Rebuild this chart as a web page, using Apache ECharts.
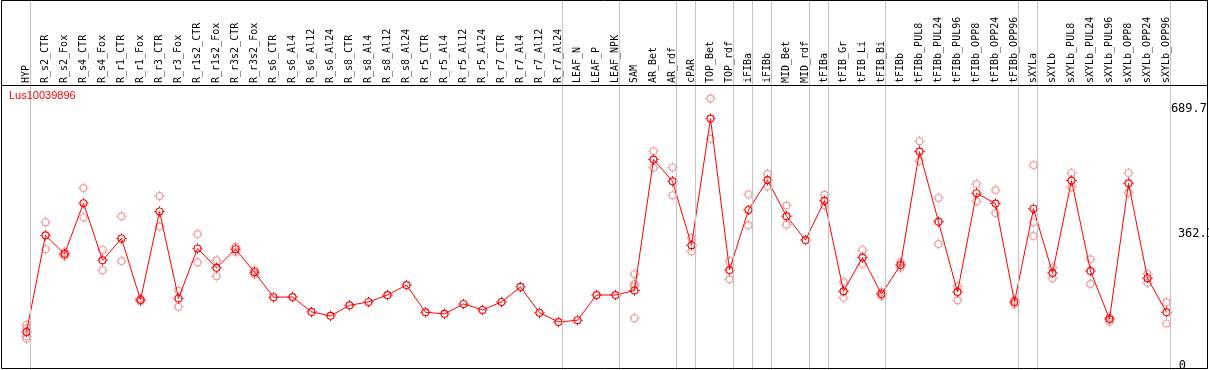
<!DOCTYPE html>
<html><head><meta charset="utf-8">
<script src="https://cdn.jsdelivr.net/npm/echarts@6/dist/echarts.min.js"></script>
<style>html,body{margin:0;padding:0;background:#fff}#c{position:absolute;left:0;top:0;width:1209px;height:370px}</style>
</head><body><div id="c"></div>
<script>
const geneName = 'Lus10039896';
const categories = ['HYP','R_s2_CTR','R_s2_Fox','R_s4_CTR','R_s4_Fox','R_r1_CTR','R_r1_Fox','R_r3_CTR','R_r3_Fox','R_r1s2_CTR','R_r1s2_Fox','R_r3s2_CTR','R_r3s2_Fox','R_s6_CTR','R_s6_Al4','R_s6_Al12','R_s6_Al24','R_s8_CTR','R_s8_Al4','R_s8_Al12','R_s8_Al24','R_r5_CTR','R_r5_Al4','R_r5_Al12','R_r5_Al24','R_r7_CTR','R_r7_Al4','R_r7_Al12','R_r7_Al24','LEAF_N','LEAF_P','LEAF_NPK','SAM','AR_Bet','AR_rdf','cPAR','TOP_Bet','TOP_rdf','iFIBa','iFIBb','MID_Bet','MID_rdf','tFIBa','tFIB_Gr','tFIB_Li','tFIB_Bi','tFIBb','tFIBb_PUL8','tFIBb_PUL24','tFIBb_PUL96','tFIBb_OPP8','tFIBb_OPP24','tFIBb_OPP96','sXYLa','sXYLb','sXYLb_PUL8','sXYLb_PUL24','sXYLb_PUL96','sXYLb_OPP8','sXYLb_OPP24','sXYLb_OPP96'];
const meanValues = [101,345,298,426,282,337,182,405,186,312,263,310,252,189,189.5,152,142,168.6,177,194.5,219.7,151,147,172,157,177,215,150,126.5,131,194.5,194.5,206,536,481,320,639,257.5,409,484,393,333,432,204,289,197,270,556,379,202,451,425,177,412,250,483,255,134,476,237,151];
const replicateValues = [[119,111,90,84],[378,310],[302,298,293],[464,390],[308,257],[393,280],[186,178],[444,367],[205,165],[348,277],[282,242],[316,303],[256,246],[],[],[],[],[],[],[],[],[],[],[],[],[],[],[],[],[],[],[],[247,222,217,136],[557,515],[516,446],[338,304],[689.7,588],[280,234],[448,370],[500,468],[420,372],[],[447,421],[227,188],[308,273],[202,192],[277,263],[582,532],[439,323],[216,181],[474,431],[459,401],[182,172],[522,378,343],[264,237],[502,466],[284.5,222],[138,127],[502,452],[247.5,225.5],[176,123]];
const separatorsAfter = [-1,0,28,31,34,35,37,38,39,41,42,45,52,53,60];
const yTicks = [0, 362.1, 689.7];
const yTickLabels = ['0', '362.1', '689.7'];
const gridValue = 362.1;

const SEP_OFFSET = 4 / 19;
const symbolPath = 'path://M1.3 5.5A4.2 4.2 0 1 1 9.7 5.5A4.2 4.2 0 1 1 1.3 5.5Z M2.5 5.5A3 3 0 1 0 8.5 5.5A3 3 0 1 0 2.5 5.5Z M5 0H6V1.6H5Z M5 9.4H6V11H5Z M0 5H1.6V6H0Z M9.4 5H11V6H9.4Z';

const replicatePoints = [];
replicateValues.forEach((arr, i) => arr.forEach(v => replicatePoints.push([i, v])));

const chart = echarts.init(document.getElementById('c'), null, {renderer: 'canvas'});
chart.setOption({
  animation: false,
  backgroundColor: '#fff',
  title: {
    text: geneName, left: 9, top: 90, padding: 0,
    textStyle: {color: '#ff0000', fontSize: 11, fontWeight: 'normal', fontFamily: 'Liberation Sans'}
  },
  grid: {left: 17, width: 1159, top: 0, height: 372.2, containLabel: false, outerBoundsMode: 'none'},
  xAxis: [{
    type: 'category', data: categories, position: 'top', offset: -85,
    boundaryGap: true,
    axisLine: {show: false}, axisTick: {show: false}, splitLine: {show: false},
    axisLabel: {interval: 0, rotate: 90, margin: 2, fontFamily: 'DejaVu Sans Mono', fontSize: 10, color: '#000'}
  }, {
    type: 'value', min: -0.5, max: categories.length - 0.5, show: false
  }],
  yAxis: {
    type: 'value', min: 0, max: 937.9, position: 'right',
    axisLine: {show: false}, axisTick: {show: false}, splitLine: {show: false},
    axisLabel: {
      customValues: yTicks, align: 'right', margin: 38,
      fontFamily: 'DejaVu Sans Mono', fontSize: 12, color: '#000',
      formatter: (v) => { const k = yTicks.indexOf(v); return '{s' + k + '|' + yTickLabels[k] + '}'; },
      rich: {s0: {padding: [0, 28, 13, 0]}, s1: {padding: [10, 0, 0, 0]}, s2: {padding: [21, 7, 0, 0]}}
    }
  },
  graphic: [
    {type: 'rect', z: 100, silent: true, shape: {x: 1.5, y: 0.5, width: 1206, height: 368}, style: {fill: null, stroke: '#000', lineWidth: 1}},
    {type: 'line', z: 100, silent: true, shape: {x1: 1, y1: 85.5, x2: 1208, y2: 85.5}, style: {stroke: '#000', lineWidth: 1}}
  ],
  series: [{
    type: 'scatter', xAxisIndex: 1, yAxisIndex: 0, data: replicatePoints, clip: false, z: 2,
    symbol: symbolPath, symbolSize: 10.5, symbolKeepAspect: true,
    itemStyle: {color: '#f09a9a', opacity: 1},
    markLine: {
      silent: true, symbol: ['none', 'none'], label: {show: false}, animation: false,
      lineStyle: {color: '#c4c4c4', type: 'solid', width: 1},
      emphasis: {disabled: true},
      data: separatorsAfter.map(s => ({xAxis: s + SEP_OFFSET})).concat([
        [{coord: [-1.3, gridValue]}, {coord: [separatorsAfter[separatorsAfter.length - 1] + SEP_OFFSET, gridValue]}]
      ])
    }
  }, {
    type: 'line', xAxisIndex: 0, yAxisIndex: 0, data: meanValues, clip: false, z: 3,
    symbol: symbolPath, symbolSize: 10.5, symbolKeepAspect: true, showAllSymbol: true,
    itemStyle: {color: '#ff0000', borderWidth: 0},
    lineStyle: {color: '#ff0000', width: 1}
  }]
});
</script></body></html>
